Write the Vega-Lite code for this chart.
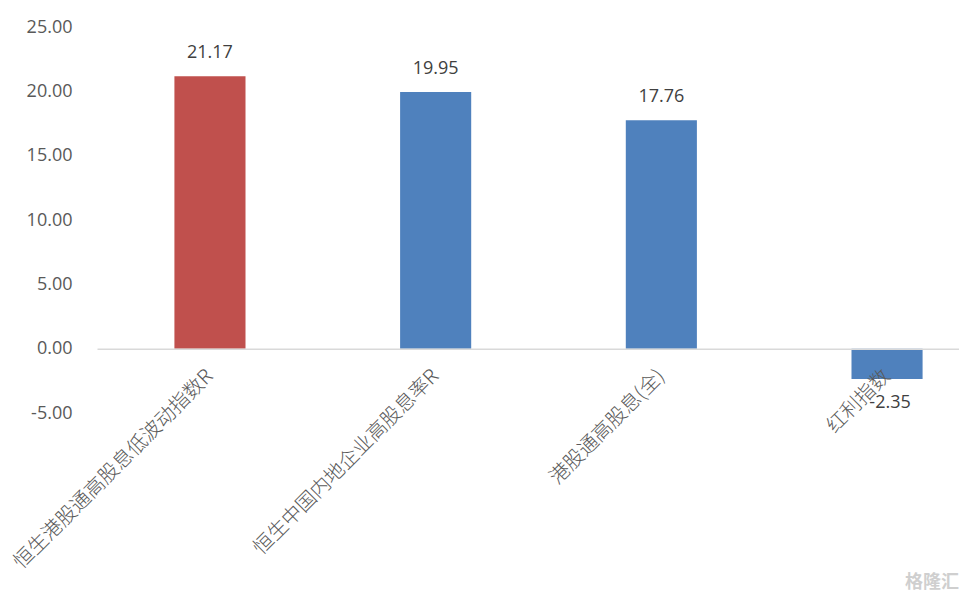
{
  "$schema": "https://vega.github.io/schema/vega-lite/v6.json",
  "width": 862,
  "height": 386,
  "autosize": "none",
  "padding": {"left": 97, "top": 27, "right": 0, "bottom": 188},
  "background": "white",
  "config": {
    "view": {"stroke": null},
    "locale": {"number": {"decimal": ".", "thousands": ",", "grouping": [3], "currency": ["$", ""], "minus": "-"}}
  },
  "title": {"text": "格隆汇", "orient": "bottom", "anchor": "end", "frame": "group", "fontSize": 18, "color": "#cfcfcf", "font": "Noto Sans CJK SC", "fontWeight": "bold", "offset": 2},
  "data": {"values": [
    {"name": "恒生港股通高股息低波动指数R", "value": 21.17, "group": "a"},
    {"name": "恒生中国内地企业高股息率R", "value": 19.95, "group": "b"},
    {"name": "港股通高股息(全)", "value": 17.76, "group": "b"},
    {"name": "红利指数", "value": -2.35, "group": "b"}
  ]},
  "encoding": {
    "x": {
      "field": "name", "type": "nominal", "sort": null,
      "scale": {"range": [0, 903], "paddingInner": 0.685, "paddingOuter": 0.343},
      "axis": {
        "title": null, "offset": -64.33, "domainColor": "#d9d9d9", "domainWidth": 1.5,
        "ticks": false, "labelAngle": -45, "labelAlign": "right", "labelBaseline": "middle",
        "labelFontSize": 20, "labelColor": "#595959", "labelFont": "Noto Sans CJK SC", "labelFontWeight": 300,
        "labelPadding": 24, "labelLimit": 0, "labelOverlap": false, "zindex": 1
      }
    }
  },
  "layer": [
    {
      "mark": {"type": "bar"},
      "encoding": {
        "y": {
          "field": "value", "type": "quantitative",
          "scale": {"domain": [-5, 25], "nice": false},
          "axis": {
            "title": null, "values": [-5, 0, 5, 10, 15, 20, 25], "format": ".2f",
            "grid": false, "domain": false, "ticks": false, "labelPadding": 25,
            "labelFontSize": 18, "labelColor": "#595959", "labelFont": "Open Sans"
          }
        },
        "color": {"field": "group", "type": "nominal", "scale": {"domain": ["a", "b"], "range": ["#C0504D", "#4F81BD"]}, "legend": null}
      }
    },
    {
      "transform": [{"filter": "datum.value >= 0"}],
      "mark": {"type": "text", "baseline": "middle", "dy": -23, "fontSize": 18, "color": "#404040", "font": "Open Sans"},
      "encoding": {
        "y": {"field": "value", "type": "quantitative"},
        "text": {"field": "value", "type": "quantitative", "format": ".2f"}
      }
    },
    {
      "transform": [{"filter": "datum.value < 0"}],
      "mark": {"type": "text", "baseline": "middle", "dy": 24, "dx": 3, "fontSize": 18, "color": "#404040", "font": "Open Sans"},
      "encoding": {
        "y": {"field": "value", "type": "quantitative"},
        "text": {"field": "value", "type": "quantitative", "format": ".2f"}
      }
    }
  ]
}
